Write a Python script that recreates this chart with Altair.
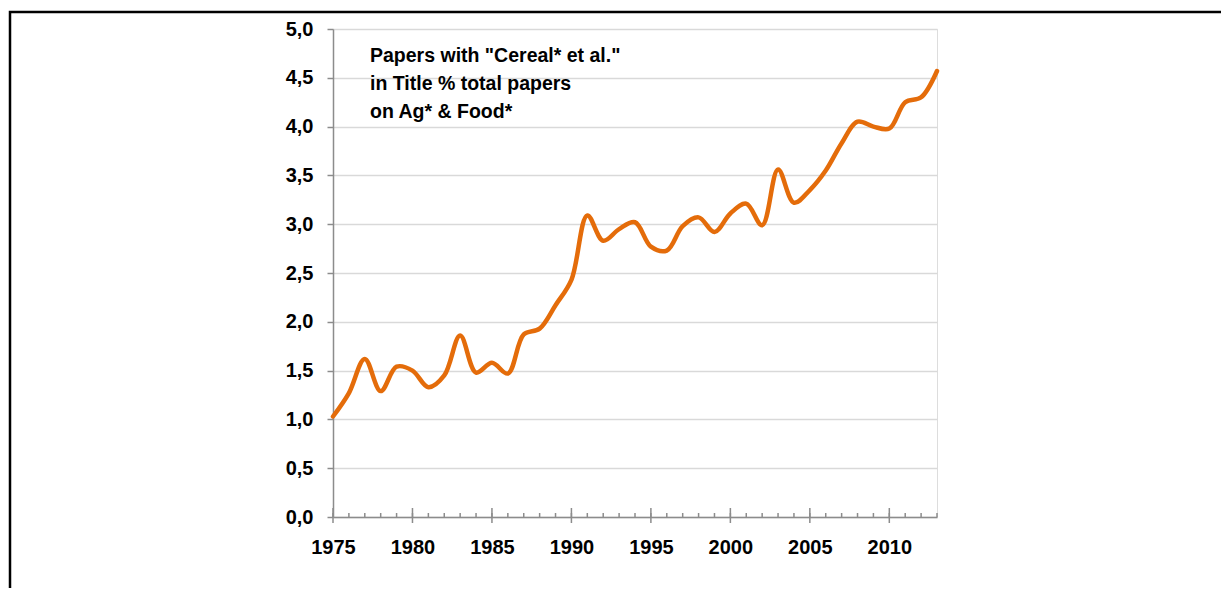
import altair as alt
import pandas as pd

years = list(range(1975, 2014))
values = [1.03, 1.27, 1.62, 1.29, 1.54, 1.50, 1.33, 1.45, 1.86, 1.48,
          1.58, 1.47, 1.87, 1.93, 2.17, 2.43, 3.09, 2.83, 2.95, 3.02,
          2.77, 2.73, 2.98, 3.07, 2.92, 3.11, 3.21, 2.99, 3.56, 3.22,
          3.35, 3.55, 3.83, 4.05, 4.00, 3.98, 4.25, 4.30, 4.57]
y_ticks = [0, 0.5, 1.0, 1.5, 2.0, 2.5, 3.0, 3.5, 4.0, 4.5, 5.0]
major_years = [1975, 1980, 1985, 1990, 1995, 2000, 2005, 2010]
note_lines = ['Papers with "Cereal* et al."', "in Title % total papers", "on Ag* & Food*"]

W, H = 604, 488
AXIS_FONT = "Liberation Sans, Arial, sans-serif"
NOTE_FONT = "Liberation Sans, Arial, sans-serif"
GRAY = "#8c8c8c"

df = pd.DataFrame({"year": years, "value": values})
minor_df = pd.DataFrame({"year": years})
major_df = pd.DataFrame({"year": major_years})
note_df = pd.DataFrame({"text": [note_lines]})

xscale = alt.Scale(domain=[1975, 2013], nice=False, zero=False)
yscale = alt.Scale(domain=[0, 5], nice=False)

line = alt.Chart(df).mark_line(
    color="#E46C0A", strokeWidth=4.5, interpolate="catmull-rom", strokeCap="round"
).encode(
    x=alt.X("year:Q", scale=xscale, axis=alt.Axis(
        values=major_years, format="d", title=None, ticks=False, grid=False,
        domainColor=GRAY, domainWidth=1.5, labelFont=AXIS_FONT, labelFontSize=20,
        labelFontWeight="bold", labelColor="#000000", labelPadding=20, labelFlush=False)),
    y=alt.Y("value:Q", scale=yscale, axis=alt.Axis(
        values=y_ticks, title=None, labelExpr="replace(format(datum.value, '.1f'), '.', ',')",
        grid=True, gridColor="#d9d9d9", gridWidth=1.5, domainColor=GRAY, domainWidth=1.5,
        tickColor=GRAY, tickWidth=1.5, tickSize=6, labelFont=AXIS_FONT, labelFontSize=20,
        labelFontWeight="bold", labelColor="#000000", labelPadding=14)),
)

minor = alt.Chart(minor_df).mark_rule(color=GRAY, strokeWidth=1.5).encode(
    x=alt.X("year:Q", scale=xscale), y=alt.value(H - 4), y2=alt.value(H)
)
major = alt.Chart(major_df).mark_rule(color=GRAY, strokeWidth=1.5).encode(
    x=alt.X("year:Q", scale=xscale), y=alt.value(H - 9), y2=alt.value(H + 6)
)

note = alt.Chart(note_df).mark_text(
    align="left", baseline="top", font=NOTE_FONT, fontSize=19.5, fontWeight="bold",
    color="#000000", lineHeight=28
).encode(x=alt.value(37), y=alt.value(18), text="text")

frame = alt.Chart(minor_df.head(1)).mark_rect(
    fill=None, stroke="#000000", strokeWidth=2.5
).encode(x=alt.value(-323), x2=alt.value(W + 400), y=alt.value(-17), y2=alt.value(H + 200))

chart = alt.layer(frame, line, minor, major, note).properties(
    width=W, height=H,
    autosize=alt.AutoSizeParams(type="none"),
    padding={"left": 325, "top": 21, "right": 284, "bottom": 71},
).configure_view(stroke=None).configure(background="white")

chart.save("out.html", embed_options={"renderer": "svg", "actions": False})
